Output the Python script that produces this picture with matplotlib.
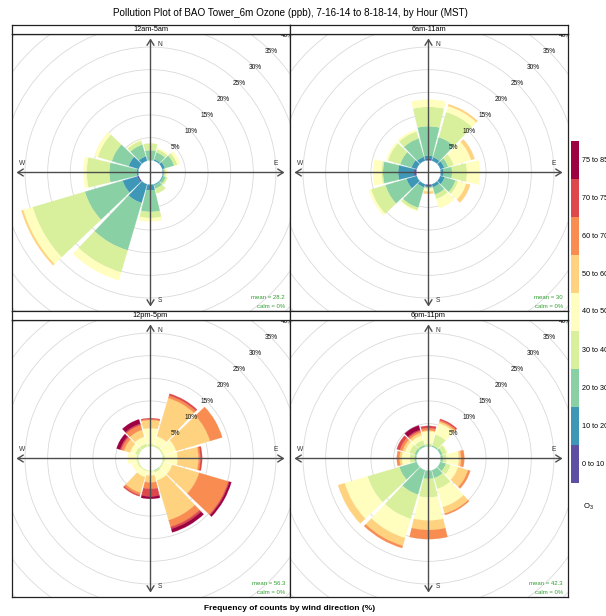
import numpy as np
import matplotlib
matplotlib.use("Agg")
import matplotlib.pyplot as plt
from matplotlib.patches import Wedge, Circle
from matplotlib.colors import LinearSegmentedColormap

plt.rcParams['font.family'] = ['Liberation Sans', 'DejaVu Sans']
plt.rcParams['mathtext.default'] = 'regular'

# ---------------- data ----------------
title = "Pollution Plot of BAO Tower_6m Ozone (ppb), 7-16-14 to 8-18-14, by Hour (MST)"
xlabel = "Frequency of counts by wind direction (%)"
directions = [0, 30, 60, 90, 120, 150, 180, 210, 240, 270, 300, 330]
bin_labels = ["0 to 10", "10 to 20", "20 to 30", "30 to 40", "40 to 50",
              "50 to 60", "60 to 70", "70 to 75", "75 to 85"]
panel_titles = ["12am-5am", "6am-11am", "12pm-5pm", "6pm-11pm"]
panel_means = ["28.2", "30", "56.3", "42.3"]
panel_calms = ["0%", "0%", "0%", "0%"]
grid_pcts = [5, 10, 15, 20, 25, 30, 35, 40]
dir_labels = ["N", "E", "S", "W"]
legend_title = "O$_3$"

# frequency (%) per direction (rows) and concentration bin (columns)
freq_12am_5am = [
    [0, 0, 2.2, 1.5, 0, 0, 0, 0, 0],
    [0, 0.3, 1.6, 0.7, 0.3, 0, 0, 0, 0],
    [0, 0.6, 2.1, 0.75, 0.65, 0, 0, 0, 0],
    [0, 0.1, 0.3, 0.3, 0.3, 0, 0, 0, 0],
    [0, 0.2, 0.6, 0.4, 0, 0, 0, 0, 0],
    [0, 0.2, 0.8, 1.1, 0, 0, 0, 0, 0],
    [0, 1.25, 4.75, 1.35, 0.75, 0, 0, 0, 0],
    [0, 4.3, 10.9, 5.1, 1.8, 0, 0, 0, 0],
    [0.3, 3.4, 8.7, 12.0, 2.2, 0.4, 0, 0, 0],
    [0, 0.4, 6.0, 5.0, 0.7, 0, 0, 0, 0],
    [0, 2.3, 3.9, 3.2, 0.8, 0, 0, 0, 0],
    [0, 1.0, 2.7, 0.9, 0.2, 0, 0, 0, 0],
]
freq_6am_11am = [
    [0.3, 0.7, 6.5, 4.3, 1.6, 0, 0, 0, 0],
    [0, 0.8, 4.6, 5.8, 1.4, 0.4, 0, 0, 0],
    [0, 0.9, 0.9, 1.3, 4.0, 0.8, 0, 0, 0],
    [0, 0.65, 1.85, 3.3, 2.9, 0, 0, 0, 0],
    [0, 1.0, 2.5, 0.6, 1.9, 0.9, 0, 0, 0],
    [0, 0.7, 1.65, 1.05, 2.1, 0, 0, 0, 0],
    [0.3, 0.2, 0.2, 0.2, 0.6, 0.5, 0, 0, 0],
    [0, 0.7, 4.7, 0.6, 0.2, 0, 0, 0, 0],
    [0, 2.35, 4.85, 3.3, 0.5, 0, 0, 0, 0],
    [0.5, 3.5, 3.35, 0.3, 1.9, 0, 0, 0, 0],
    [0, 1.2, 2.6, 2.8, 0.4, 0, 0, 0, 0],
    [0, 0.9, 4.2, 1.6, 0.4, 0, 0, 0, 0],
]
freq_12pm_5pm = [
    [0, 0, 0, 0.5, 3.5, 1.8, 0.2, 0.2, 0],
    [0, 0, 0, 0.4, 2.0, 8.8, 0.6, 0.4, 0],
    [0, 0, 0, 0.3, 2.9, 7.8, 2.8, 0, 0],
    [0, 0, 0, 0.5, 2.8, 4.6, 0.4, 0.4, 0],
    [0, 0, 0, 0.3, 2.0, 6.2, 6.7, 0.25, 0.45],
    [0, 0, 0.1, 0.4, 1.85, 9.15, 1.5, 0.5, 0.8],
    [0, 0, 0, 0.2, 0.9, 1.5, 1.4, 1.7, 0.5],
    [0, 0, 0, 0.2, 1.4, 3.6, 0.5, 0.3, 0],
    [0, 0, 0, 0.3, 1.2, 0, 0, 0, 0],
    [0, 0, 0, 0.4, 1.9, 0, 0, 0, 0],
    [0, 0, 0, 0.8, 1.2, 1.4, 0.6, 0.3, 0.8],
    [0, 0, 0, 0.7, 1.6, 1.6, 1.1, 0.3, 1.0],
]
freq_6pm_11pm = [
    [0, 0, 0.2, 0.4, 2.7, 0.2, 0.5, 0.5, 0],
    [0, 0, 0.3, 2.5, 2.6, 0.4, 0.3, 0.3, 0],
    [0, 0, 0.5, 1.0, 0.2, 0, 0, 0, 0],
    [0, 0, 0.5, 0.8, 2.7, 0.5, 0.7, 0, 0],
    [0, 0, 1.3, 1.1, 1.7, 2.3, 0.5, 0, 0],
    [0, 0, 1.8, 2.5, 4.2, 1.5, 0.3, 0, 0],
    [0, 0, 1.8, 4.1, 5.1, 2.1, 2.0, 0, 0],
    [0, 0, 5.6, 5.6, 4.4, 1.8, 0.5, 0, 0],
    [0, 0, 4.0, 7.3, 5.3, 1.5, 0, 0, 0],
    [0, 0, 0.4, 1.0, 1.8, 0.5, 0.6, 0, 0],
    [0, 0, 0.5, 1.2, 1.0, 0.6, 0.6, 0.7, 0],
    [0, 0, 0.4, 1.1, 1.1, 0.6, 0.4, 0.3, 1.0],
]
panel_freqs = [freq_12am_5am, freq_6am_11am, freq_12pm_5pm, freq_6pm_11pm]

# ---------------- style ----------------
spectral = ["#9E0142", "#D53E4F", "#F46D43", "#FDAE61", "#FEE08B", "#FFFFBF",
            "#E6F598", "#ABDDA4", "#66C2A5", "#3288BD", "#5E4FA2"][::-1]
cmap = LinearSegmentedColormap.from_list("spec", spectral, N=256)
bin_colors = [cmap(i / (len(bin_labels) - 1)) for i in range(len(bin_labels))]

W, H = 606, 616
fig = plt.figure(figsize=(W / 100, H / 100), dpi=100)


def fbox(x0, y0, x1, y1):
    return [x0 / W, 1 - y1 / H, (x1 - x0) / W, (y1 - y0) / H]


panel_px = [(11.5, 34, 289.5, 311), (289.5, 34, 567.5, 311),
            (11.5, 320, 289.5, 597), (289.5, 320, 567.5, 597)]
strip_px = [(11.5, 25, 289.5, 34), (289.5, 25, 567.5, 34),
            (11.5, 311, 289.5, 320), (289.5, 311, 567.5, 320)]

px_per_unit = 4.53
xhalf = 139.0 / px_per_unit
yhalf = 138.5 / px_per_unit
max_total = max(sum(r) for f in panel_freqs for r in f)
offset = 0.1 * max_total
half_w = 13.6
arrow_ext = 29.6
s45 = np.sin(np.pi / 4)

for k, freqs in enumerate(panel_freqs):
    ax = fig.add_axes(fbox(*panel_px[k]))
    ax.set_xlim(-xhalf, xhalf)
    ax.set_ylim(-yhalf, yhalf)
    ax.set_xticks([])
    ax.set_yticks([])
    for sp in ax.spines.values():
        sp.set_linewidth(0.9)
        sp.set_color("#222222")

    for p in grid_pcts:
        ax.add_patch(Circle((0, 0), offset + p, fill=False, ec="#DADADA",
                            lw=0.6, zorder=1))

    for d, row in zip(directions, freqs):
        cum = 0.0
        for j, v in enumerate(row):
            if v <= 0:
                continue
            r_out = offset + cum + v
            ax.add_patch(Wedge((0, 0), r_out, 90 - d - half_w, 90 - d + half_w,
                               width=v, fc=bin_colors[j], ec=bin_colors[j],
                               lw=0.15, zorder=2))
            cum += v

    arr = dict(arrowstyle="<->,head_length=0.4,head_width=0.25",
               color="#4D4D4D", lw=1.0, shrinkA=0, shrinkB=0)
    ax.annotate("", xy=(arrow_ext, 0), xytext=(-arrow_ext, 0),
                arrowprops=arr, zorder=3)
    ax.annotate("", xy=(0, arrow_ext), xytext=(0, -arrow_ext),
                arrowprops=arr, zorder=3)

    dpos = {"N": (2.0, 28.2), "E": (27.7, 1.9), "S": (2.0, -28.3), "W": (-28.4, 1.9)}
    for lab in dir_labels:
        ax.text(*dpos[lab], lab, fontsize=4.8, color="#333333",
                ha="center", va="center", zorder=4)

    for p in grid_pcts:
        rr = (offset + p) * s45
        ax.text(rr, rr, f"{p}%", fontsize=4.7, ha="center", va="center",
                color="#111111", clip_on=True, zorder=4)

    ax.text(0.984, 0.049, f"mean = {panel_means[k]}", transform=ax.transAxes,
            ha="right", va="center", fontsize=4.3, color="#2E9E2E", zorder=4)
    ax.text(0.984, 0.018, f"calm = {panel_calms[k]}", transform=ax.transAxes,
            ha="right", va="center", fontsize=4.3, color="#2E9E2E", zorder=4)

    sa = fig.add_axes(fbox(*strip_px[k]))
    sa.set_xticks([])
    sa.set_yticks([])
    for sp in sa.spines.values():
        sp.set_linewidth(0.9)
        sp.set_color("#222222")
    sa.text(0.5, 0.5, panel_titles[k], transform=sa.transAxes,
            ha="center", va="center", fontsize=5.3)

# colour key
cb = fig.add_axes(fbox(571, 141, 579, 483))
n = len(bin_labels)
cb.bar(np.zeros(n), np.ones(n), bottom=np.arange(n), width=1.0,
       color=bin_colors, edgecolor="none")
cb.set_xlim(-0.5, 0.5)
cb.set_ylim(0, n)
cb.axis("off")
for i, lab in enumerate(bin_labels):
    yc = 483 - (i + 0.5) * (483 - 141) / n
    fig.text(582 / W, 1 - yc / H, lab, ha="left", va="center", fontsize=5.2)
fig.text(583 / W, 1 - 507 / H, legend_title, ha="left", va="center", fontsize=5.5)

fig.text(290 / W, 1 - 13 / H, title, ha="center", va="center", fontsize=7.1)
fig.text(290 / W, 1 - 608 / H, xlabel, ha="center", va="center",
         fontsize=6, fontweight="bold")

fig.savefig("out.png", dpi=100)
